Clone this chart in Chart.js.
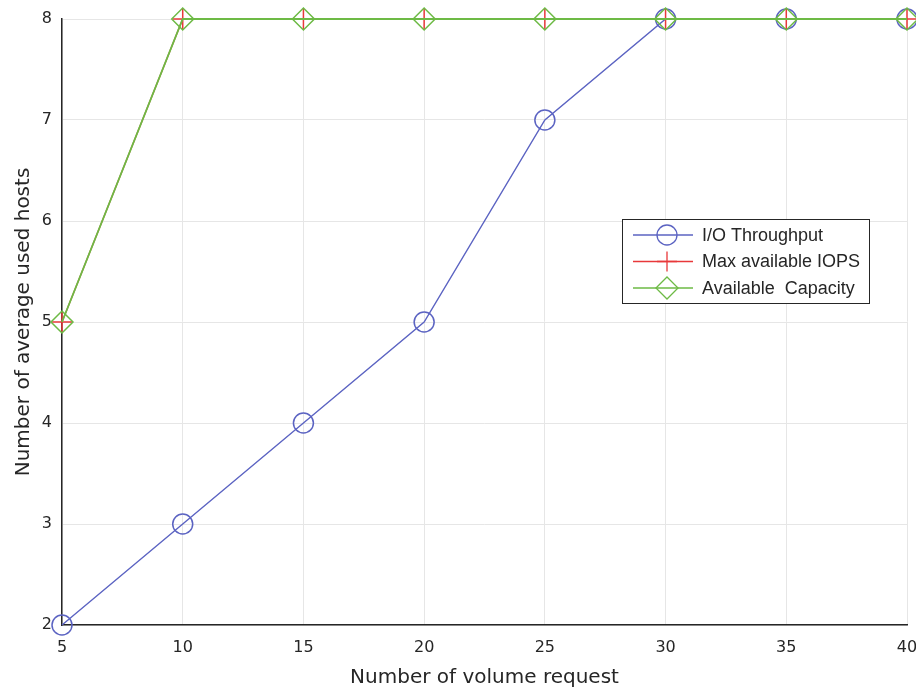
<!DOCTYPE html>
<html>
<head>
<meta charset="utf-8">
<script src="https://cdn.jsdelivr.net/npm/chart.js@4.4.1/dist/chart.umd.min.js"></script>
<style>
  html, body { margin: 0; padding: 0; background: #fff; }
  #wrap { width: 916px; height: 690px; }
</style>
</head>
<body>
<div id="wrap"><canvas id="hostsChart" width="916" height="690"></canvas></div>
<script>
// volume requests on the x axis
const volumeRequests = [5, 10, 15, 20, 25, 30, 35, 40];
// average used hosts per policy
const ioThroughput = [2, 3, 4, 5, 7, 8, 8, 8];
const maxIops = [5, 8, 8, 8, 8, 8, 8, 8];
const availCapacity = [5, 8, 8, 8, 8, 8, 8, 8];
const seriesNames = ['I/O Throughput', 'Max available IOPS', 'Available  Capacity'];

const FONT = "'DejaVu Sans', Verdana, sans-serif";
const LEGEND_FONT = "'Liberation Sans', Arial, sans-serif";
const INK = '#262626';

function toPoints(vals) {
    return vals.map((v, i) => ({ x: volumeRequests[i], y: v }));
}

// legend drawn inside the plot, MATLAB style
const boxLegend = {
    id: 'boxLegend',
    afterDraw(chart) {
        const ctx = chart.ctx;
        const x0 = 622, y0 = 219, w = 247, h = 84;
        ctx.save();
        ctx.fillStyle = '#fff';
        ctx.fillRect(x0, y0, w, h);
        ctx.strokeStyle = INK;
        ctx.lineWidth = 1;
        ctx.strokeRect(x0 + 0.5, y0 + 0.5, w, h);
        chart.data.datasets.forEach((ds, i) => {
            const cy = y0 + 16 + i * 26.5;
            ctx.strokeStyle = ds.borderColor;
            ctx.lineWidth = 1.3;
            ctx.beginPath();
            ctx.moveTo(x0 + 11, cy);
            ctx.lineTo(x0 + 71, cy);
            ctx.stroke();
            ctx.strokeStyle = ds.pointBorderColor;
            ctx.fillStyle = 'rgba(0,0,0,0)';
            Chart.helpers.drawPoint(ctx, {
                pointStyle: ds.pointStyle,
                radius: ds.pointRadius,
                borderWidth: ds.pointBorderWidth
            }, x0 + 45, cy);
            ctx.fillStyle = INK;
            ctx.font = '18px ' + LEGEND_FONT;
            ctx.textBaseline = 'middle';
            ctx.fillText(seriesNames[i], x0 + 80, cy + 1);
        });
        ctx.restore();
    }
};

const ctx = document.getElementById('hostsChart').getContext('2d');
new Chart(ctx, {
    type: 'line',
    data: {
        datasets: [
            {
                label: seriesNames[0], data: toPoints(ioThroughput), order: 2,
                borderColor: '#5b63c2', backgroundColor: 'rgba(0,0,0,0)',
                pointStyle: 'circle', pointRadius: 10, pointBorderWidth: 1.5,
                pointBorderColor: '#5b63c2', pointBackgroundColor: 'rgba(0,0,0,0)',
                borderWidth: 1.4, tension: 0, clip: false
            },
            {
                label: seriesNames[1], data: toPoints(maxIops), order: 1,
                borderColor: '#e8383a', backgroundColor: 'rgba(0,0,0,0)',
                pointStyle: 'cross', pointRadius: 10, pointBorderWidth: 1.5,
                pointBorderColor: '#e8383a',
                borderWidth: 1.4, tension: 0, clip: false
            },
            {
                label: seriesNames[2], data: toPoints(availCapacity), order: 0,
                borderColor: '#6dba45', backgroundColor: 'rgba(0,0,0,0)',
                pointStyle: 'rectRot', pointRadius: 11, pointBorderWidth: 1.5,
                pointBorderColor: '#6dba45', pointBackgroundColor: 'rgba(0,0,0,0)',
                borderWidth: 1.8, tension: 0, clip: false
            }
        ]
    },
    options: {
        responsive: false, animation: false,
        layout: { autoPadding: false, padding: { left: 0, top: 19, right: 9, bottom: 0 } },
        scales: {
            x: {
                type: 'linear', min: 5, max: 40,
                ticks: { stepSize: 5, color: INK, padding: 13, font: { family: FONT, size: 16 } },
                grid: { color: '#e6e6e6', drawTicks: false },
                border: { color: INK, width: 1.5 },
                title: { display: true, text: 'Number of volume request', color: INK,
                         font: { family: FONT, size: 20 }, padding: { top: 0, bottom: 0 } },
                afterFit(axis) { axis.height = 65; axis.paddingLeft = 0; axis.paddingRight = 0; }
            },
            y: {
                min: 2, max: 8,
                ticks: { stepSize: 1, color: INK, padding: 10, font: { family: FONT, size: 16 } },
                grid: { color: '#e6e6e6', drawTicks: false },
                border: { color: INK, width: 1.5 },
                title: { display: true, text: 'Number of average used hosts', color: INK,
                         font: { family: FONT, size: 20 }, padding: { top: 12, bottom: 0 } },
                afterFit(axis) { axis.width = 62; axis.paddingTop = 0; axis.paddingBottom = 0; }
            }
        },
        plugins: {
            legend: { display: false },
            tooltip: { enabled: false }
        }
    },
    plugins: [boxLegend]
});
</script>
</body>
</html>
